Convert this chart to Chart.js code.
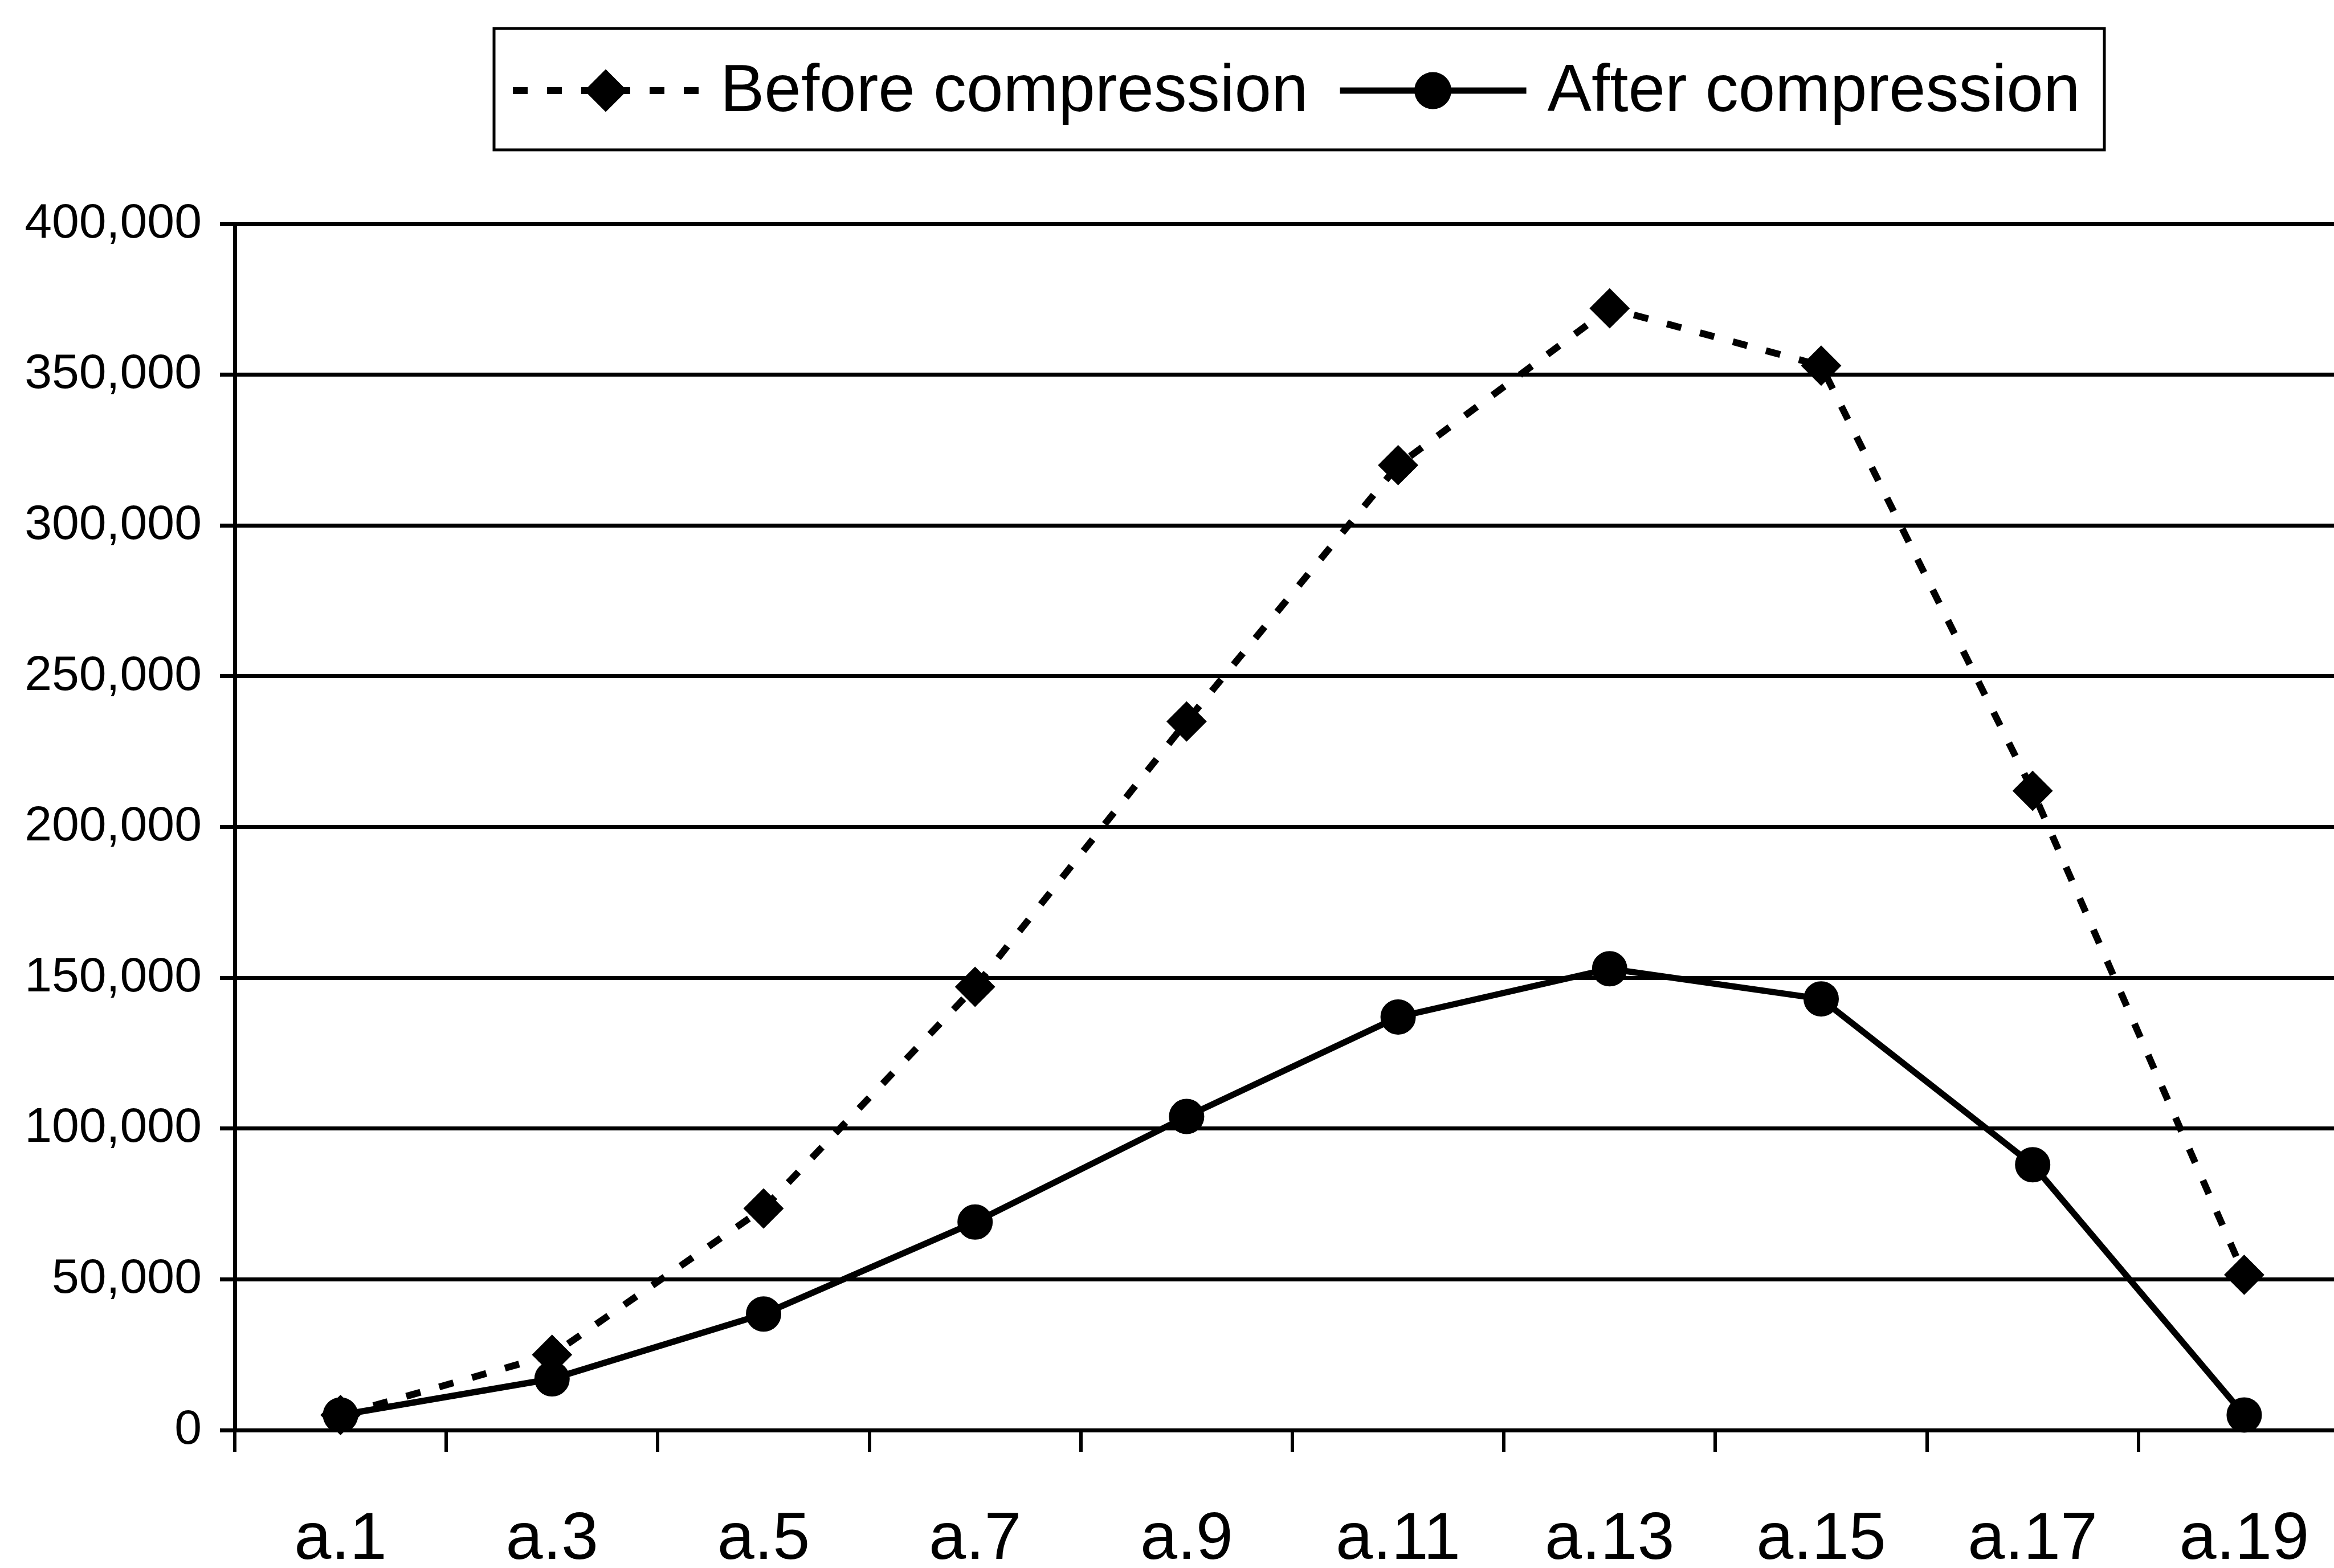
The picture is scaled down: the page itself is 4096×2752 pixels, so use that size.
<!DOCTYPE html>
<html>
<head>
<meta charset="utf-8">
<script src="https://cdn.jsdelivr.net/npm/chart.js@4.4.1/dist/chart.umd.min.js"></script>
<style>
  html, body { margin: 0; padding: 0; background: #fff; overflow: hidden; }
  #wrap { width: 4160px; height: 2752px; }
</style>
</head>
<body>
<div id="wrap"><canvas id="chart" width="4160" height="2752"></canvas></div>
<script>
const categories = ['a.1', 'a.3', 'a.5', 'a.7', 'a.9', 'a.11', 'a.13', 'a.15', 'a.17', 'a.19'];
const before = [5000, 25000, 73500, 147000, 235000, 320000, 372000, 353000, 212000, 51500];
const after = [5000, 17000, 38500, 69000, 104000, 137000, 153000, 143000, 88000, 5000];
const yTicks = [0, 50000, 100000, 150000, 200000, 250000, 300000, 350000, 400000];
const seriesNames = ['Before compression', 'After compression'];

const FONT = '"Liberation Sans", Arial, sans-serif';

// legend drawn by hand: box with border, line sample + marker, label
const boxedLegend = {
  id: 'boxedLegend',
  afterDraw(chart) {
    const ctx = chart.ctx;
    ctx.save();
    ctx.strokeStyle = '#000';
    ctx.fillStyle = '#000';
    ctx.lineWidth = 5;
    ctx.strokeRect(867, 50, 2826, 213);

    ctx.font = '116px ' + FONT;
    ctx.textBaseline = 'middle';
    ctx.textAlign = 'left';
    const y = 159;
    let x = 900;
    chart.data.datasets.forEach(ds => {
      ctx.save();
      ctx.lineWidth = ds.borderWidth;
      ctx.setLineDash(ds.borderDash || []);
      ctx.beginPath();
      ctx.moveTo(x, y);
      ctx.lineTo(x + 327, y);
      ctx.stroke();
      ctx.restore();
      Chart.helpers.drawPoint(ctx, {
        pointStyle: ds.pointStyle,
        radius: ds.pointRadius,
        borderWidth: ds.pointBorderWidth,
        rotation: 0
      }, x + 163, y);
      ctx.fillText(ds.label, x + 364, y + 4);
      x += 364 + ctx.measureText(ds.label).width + 56;
    });
    ctx.restore();
  }
};

new Chart(document.getElementById('chart'), {
  type: 'line',
  data: {
    labels: categories,
    datasets: [{
      label: seriesNames[0],
      data: before,
      borderColor: '#000',
      backgroundColor: '#000',
      borderWidth: 12,
      borderDash: [26, 34],
      pointStyle: 'rectRot',
      pointRadius: 34,
      pointBorderWidth: 2,
      pointBackgroundColor: '#000',
      pointBorderColor: '#000',
      tension: 0,
      fill: false,
      clip: false
    }, {
      label: seriesNames[1],
      data: after,
      borderColor: '#000',
      backgroundColor: '#000',
      borderWidth: 11,
      pointStyle: 'circle',
      pointRadius: 30,
      pointBorderWidth: 2,
      pointBackgroundColor: '#000',
      pointBorderColor: '#000',
      tension: 0,
      fill: false,
      clip: false
    }]
  },
  options: {
    responsive: false,
    animation: false,
    devicePixelRatio: 1,
    layout: { padding: { top: 393, right: 3, left: 0, bottom: 0 } },
    plugins: {
      legend: { display: false },
      tooltip: { enabled: false }
    },
    scales: {
      x: {
        type: 'category',
        offset: true,
        afterFit: s => { s.height = 242; },
        grid: {
          display: true,
          drawOnChartArea: false,
          offset: true,
          tickLength: 38,
          lineWidth: 6,
          color: '#000'
        },
        border: { display: true, width: 7, color: '#000' },
        ticks: {
          color: '#000',
          padding: 86,
          maxRotation: 0,
          autoSkip: false,
          font: { family: FONT, size: 117 }
        }
      },
      y: {
        min: 0,
        max: 400000,
        afterFit: s => { s.width = 412; },
        afterBuildTicks: s => { s.ticks = yTicks.map(v => ({ value: v })); },
        grid: {
          color: '#000',
          lineWidth: 7,
          tickLength: 26
        },
        border: { display: true, width: 7, color: '#000' },
        ticks: {
          color: '#000',
          padding: 32,
          font: { family: FONT, size: 86 },
          callback: v => v.toLocaleString('en-US')
        }
      }
    }
  },
  plugins: [boxedLegend]
});
</script>
</body>
</html>
